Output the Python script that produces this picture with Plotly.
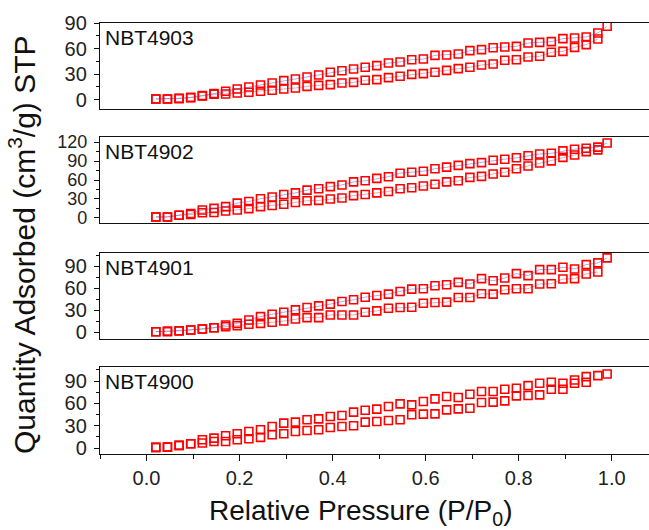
import plotly.graph_objects as go
from plotly.subplots import make_subplots

# Relative pressure grid (P/P0) shared by the isotherm branches
pressure = [0.02, 0.045, 0.07, 0.095, 0.12, 0.145, 0.17, 0.195, 0.22, 0.245,
            0.27, 0.295, 0.32, 0.345, 0.37, 0.395, 0.42, 0.445, 0.47, 0.495,
            0.52, 0.545, 0.57, 0.595, 0.62, 0.645, 0.67, 0.695, 0.72, 0.745,
            0.77, 0.795, 0.82, 0.845, 0.87, 0.895, 0.92, 0.945, 0.97, 0.99]

samples = ["NBT4903", "NBT4902", "NBT4901", "NBT4900"]

# Upper branch (cm3/g STP)
upper_4903 = [0.8, 0.8, 1.6, 2.7, 4.7, 7.0, 9.8, 12.5, 14.9, 17.2,
              19.6, 22.3, 24.3, 26.6, 29.0, 32.1, 34.0, 36.0, 38.0, 39.9,
              43.0, 44.2, 46.9, 47.7, 52.0, 52.4, 53.6, 57.5, 58.7, 61.0,
              61.8, 62.6, 66.5, 67.3, 68.1, 71.6, 72.4, 73.6, 78.2, 86.1]
upper_4902 = [1.6, 1.6, 4.3, 7.1, 12.5, 15.2, 17.9, 23.4, 26.1, 30.4,
              33.2, 37.0, 39.7, 44.0, 46.2, 49.5, 52.2, 57.1, 58.7, 62.5,
              65.2, 70.7, 72.3, 73.9, 77.7, 80.4, 83.2, 85.9, 87.5, 91.3,
              92.9, 95.1, 98.4, 101.1, 102.2, 106.0, 108.7, 110.3, 112.0, 118.5]
upper_4901 = [0.9, 1.8, 2.3, 3.2, 4.6, 6.4, 10.0, 12.3, 16.9, 21.5,
              24.7, 27.4, 30.6, 33.8, 36.1, 38.4, 42.0, 44.3, 47.9, 50.2,
              52.1, 55.7, 58.9, 59.4, 63.5, 64.8, 68.0, 65.8, 73.1, 70.3,
              74.0, 79.9, 77.2, 85.4, 85.4, 88.6, 86.3, 92.2, 94.5, 101.4]
upper_4900 = [0.9, 1.3, 3.6, 5.8, 11.2, 13.4, 16.5, 19.2, 22.3, 24.6,
              29.0, 33.5, 34.9, 38.0, 39.3, 42.4, 43.8, 48.3, 50.9, 52.3,
              55.9, 59.4, 58.1, 62.6, 66.1, 69.3, 67.9, 72.4, 76.0, 76.0,
              79.1, 80.4, 84.0, 87.1, 88.5, 87.1, 91.6, 96.1, 97.4, 99.6]

# Lower branch (cm3/g STP)
lower_4903 = [0.8, 0.8, 1.2, 2.3, 4.3, 6.3, 6.7, 7.8, 8.6, 9.8,
              11.0, 12.5, 13.7, 15.6, 16.8, 17.6, 19.6, 20.3, 22.7, 23.5,
              25.8, 27.4, 29.7, 30.5, 32.1, 34.4, 36.4, 38.0, 40.7, 41.9,
              46.2, 46.9, 50.1, 50.9, 55.6, 56.7, 61.4, 64.6, 71.2]
lower_4902 = [1.6, 1.6, 4.3, 5.4, 8.2, 8.7, 10.9, 12.5, 14.7, 17.9,
              19.6, 21.7, 24.5, 27.2, 27.7, 29.9, 31.5, 35.3, 37.0, 39.7,
              41.8, 46.2, 47.8, 50.5, 53.3, 57.1, 58.7, 64.1, 65.8, 69.6,
              72.3, 77.7, 82.1, 87.0, 90.2, 95.7, 99.5, 104.9, 107.6]
lower_4901 = [0.9, 0.9, 1.8, 3.2, 4.6, 6.4, 7.8, 9.1, 11.0, 12.3,
              13.7, 15.5, 18.3, 20.1, 20.1, 23.7, 23.7, 23.7, 27.4, 29.2,
              32.9, 33.8, 34.2, 39.7, 40.6, 41.1, 47.5, 47.5, 52.5, 52.1,
              58.0, 59.4, 59.4, 65.8, 66.2, 72.6, 73.1, 79.5, 82.2]
lower_4900 = [0.9, 1.3, 3.6, 5.8, 6.7, 8.9, 8.9, 11.2, 12.5, 14.3,
              17.9, 19.2, 22.3, 23.7, 24.6, 27.7, 29.0, 29.9, 34.9, 35.7,
              37.1, 38.0, 44.7, 45.6, 46.0, 51.4, 52.7, 53.6, 61.2, 61.7,
              63.4, 70.2, 70.6, 71.5, 79.1, 79.1, 87.1, 88.5]

upper = [upper_4903, upper_4902, upper_4901, upper_4900]
lower = [lower_4903, lower_4902, lower_4901, lower_4900]
y_ranges = [[-11, 90], [-8, 128], [-9, 108], [-8, 109]]
y_tickvals = [[0, 30, 60, 90], [0, 30, 60, 90, 120], [0, 30, 60, 90], [0, 30, 60, 90]]
y_ticksize = [20, 18, 20, 20]
joined = [True, True, True, False]

W, H = 649, 530
m_l, m_r, m_t, m_b = 100, 0, 23, 76
plot_h = H - m_t - m_b
# panel extents in pixels from the top of the page
panel_px = [(23, 109), (137, 223), (253, 339), (367, 454)]

fig = make_subplots(rows=4, cols=1, shared_xaxes=False)

font_family = "Liberation Sans, Arial, sans-serif"
red = "#ff0000"

for i in range(4):
    row = i + 1
    n_up = len(upper[i])
    n_lo = len(lower[i])
    mode = "lines+markers" if joined[i] else "markers"
    fig.add_trace(go.Scatter(
        x=pressure[:n_lo], y=lower[i], mode=mode,
        line=dict(color="rgba(200,60,90,0.55)", width=0.8),
        marker=dict(symbol="square-open", size=8, color=red,
                    line=dict(color=red, width=1.6)),
        showlegend=False), row=row, col=1)
    fig.add_trace(go.Scatter(
        x=pressure[:n_up], y=upper[i], mode=mode,
        line=dict(color="rgba(80,80,210,0.6)", width=0.8),
        marker=dict(symbol="square-open", size=8, color=red,
                    line=dict(color=red, width=1.6)),
        showlegend=False), row=row, col=1)

    top_px, bot_px = panel_px[i]
    d0 = (H - m_b - bot_px) / plot_h
    d1 = (H - m_b - top_px) / plot_h
    xa = "xaxis" if i == 0 else f"xaxis{row}"
    ya = "yaxis" if i == 0 else f"yaxis{row}"
    last = (i == 3)
    fig.layout[xa].update(
        range=[-0.1, 1.08], showline=True, mirror=True, linecolor="#111",
        linewidth=1.3, showgrid=False, zeroline=False,
        ticks="outside" if last else "", ticklen=6, tickwidth=1.2,
        tickcolor="#111", tickvals=[0.0, 0.2, 0.4, 0.6, 0.8, 1.0],
        ticktext=["0.0", "0.2", "0.4", "0.6", "0.8", "1.0"],
        showticklabels=last,
        tickfont=dict(family=font_family, size=20, color="#222"),
        minor=dict(tickvals=[-0.1, 0.1, 0.3, 0.5, 0.7, 0.9], ticks="outside",
                   ticklen=4, tickwidth=1.2, tickcolor="#111") if last else None,
    )
    fig.layout[ya].update(
        domain=[d0, d1], range=y_ranges[i], showline=True, mirror=False,
        linecolor="#111", linewidth=1.3, showgrid=False, zeroline=False,
        ticks="outside", ticklen=5, tickwidth=1.2, tickcolor="#111",
        tickvals=y_tickvals[i], ticklabelstandoff=3,
        tickfont=dict(family=font_family, size=y_ticksize[i], color="#222"),
        minor=dict(dtick=15, tick0=0, ticks="outside", ticklen=3,
                   tickwidth=1.2, tickcolor="#111"),
    )
    fig.add_annotation(
        text=samples[i], xref=f"x{'' if i == 0 else row} domain",
        yref=f"y{'' if i == 0 else row} domain", x=0.005, y=0.99,
        xanchor="left", yanchor="top", showarrow=False,
        font=dict(family=font_family, size=21, color="#111"))

fig.add_annotation(
    text="Quantity Adsorbed (cm<sup>3</sup>/g) STP", xref="paper", yref="paper",
    x=(22 - m_l) / (W - m_l - m_r), y=(H - m_b - 245) / plot_h,
    xanchor="center", yanchor="middle", textangle=-90, showarrow=False,
    font=dict(family=font_family, size=30, color="#111"))
fig.add_annotation(
    text="Relative Pressure (P/P<sub>0</sub>)", xref="paper", yref="paper",
    x=(360 - m_l) / (W - m_l - m_r), y=-(512 - (H - m_b)) / plot_h,
    xanchor="center", yanchor="middle", showarrow=False,
    font=dict(family=font_family, size=28, color="#111"))

fig.update_layout(
    width=W, height=H, margin=dict(l=m_l, r=m_r, t=m_t, b=m_b),
    paper_bgcolor="white", plot_bgcolor="white",
)

fig.write_html("out.html")
